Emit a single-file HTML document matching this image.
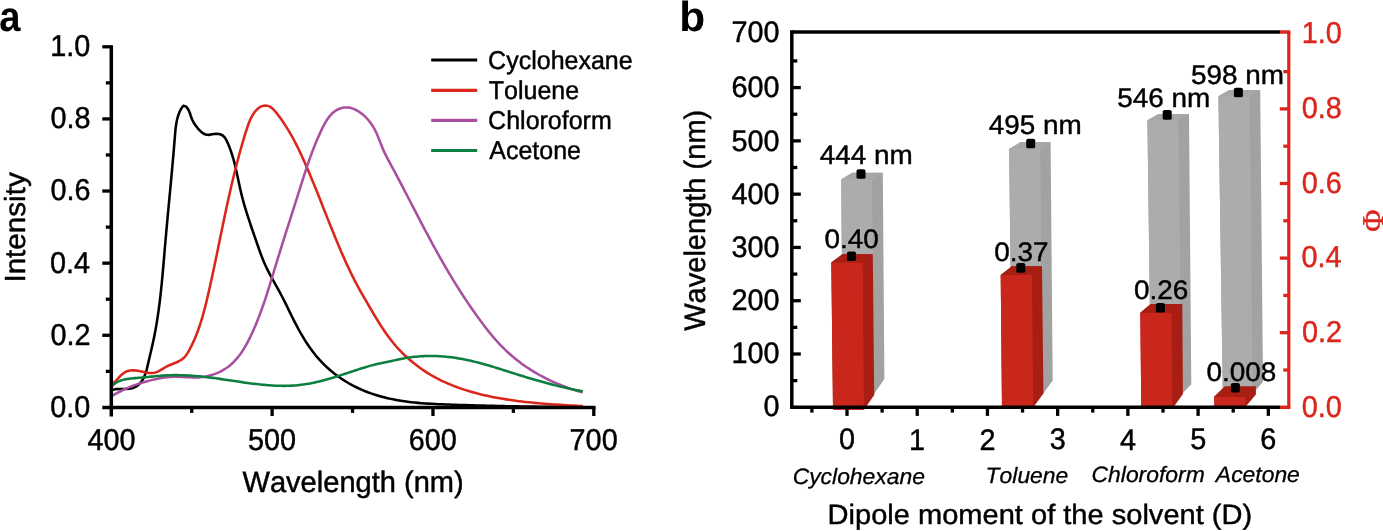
<!DOCTYPE html>
<html lang="en">
<head>
<meta charset="utf-8">
<title>Solvatochromism: emission spectra and dipole moment</title>
<style>
html, body { margin: 0; padding: 0; background: #ffffff; }
body { width: 1383px; height: 531px; overflow: hidden; }
svg { display: block; font-family: "Liberation Sans", sans-serif; }
text { stroke-linejoin: round; font-kerning: none; }
</style>
</head>
<body>
<svg width="1383" height="531" viewBox="0 0 1383 531" text-rendering="geometricPrecision">
<rect width="1383" height="531" fill="#ffffff"/>
<path d="M112.5,389.8L115.7,389.14L119.12,388.94L122.66,388.96L126.24,388.96L129.75,388.7L133.1,387.94L136.2,386.48L138.94,384.43L141.22,381.95L143.06,379.16L144.53,376.12L145.71,372.88L146.69,369.52L147.52,366.09L148.31,362.65L149.1,359.25L149.89,355.88L150.68,352.54L151.46,349.22L152.23,345.91L152.97,342.59L153.68,339.27L154.36,335.94L155.01,332.59L155.63,329.24L156.22,325.88L156.79,322.51L157.33,319.13L157.84,315.74L158.33,312.35L158.8,308.95L159.25,305.54L159.67,302.13L160.09,298.72L160.48,295.29L160.86,291.87L161.22,288.44L161.57,285.01L161.91,281.58L162.24,278.14L162.56,274.71L162.87,271.27L163.17,267.83L163.47,264.4L163.76,260.96L164.06,257.53L164.35,254.1L164.64,250.67L164.93,247.24L165.22,243.82L165.52,240.4L165.82,236.99L166.12,233.58L166.42,230.17L166.73,226.76L167.04,223.36L167.36,219.96L167.67,216.56L167.99,213.16L168.31,209.76L168.63,206.36L168.95,202.96L169.27,199.56L169.59,196.16L169.91,192.76L170.23,189.35L170.55,185.95L170.87,182.53L171.18,179.12L171.5,175.7L171.81,172.28L172.13,168.85L172.43,165.42L172.74,161.98L173.05,158.53L173.35,155.08L173.64,151.62L173.94,148.15L174.23,144.68L174.51,141.2L174.79,137.7L175.07,134.21L175.39,130.72L175.77,127.26L176.26,123.85L176.88,120.51L177.68,117.26L178.69,114.1L179.94,111.08L181.47,108.19L183.35,105.73L185.91,106.41L188.24,109.36L189.75,112.76L190.88,116.26L192.08,119.54L193.6,122.5L195.44,125.3L197.57,128.08L199.97,130.77L202.64,133.02L205.59,134.5L208.8,134.88L212.25,134.29L215.83,133.75L219.34,134L222.42,135.21L224.76,137.46L226.5,140.42L227.97,143.61L229.32,146.84L230.54,150.08L231.66,153.35L232.69,156.64L233.64,159.95L234.52,163.27L235.34,166.61L236.12,169.95L236.86,173.3L237.58,176.65L238.29,180.01L239,183.36L239.72,186.71L240.47,190.06L241.25,193.39L242.08,196.71L242.95,200.03L243.86,203.33L244.81,206.62L245.79,209.9L246.81,213.18L247.85,216.45L248.91,219.71L249.99,222.97L251.09,226.23L252.2,229.49L253.33,232.74L254.45,235.99L255.58,239.24L256.71,242.5L257.83,245.75L258.97,249L260.12,252.24L261.31,255.46L262.55,258.66L263.85,261.83L265.23,264.97L266.68,268.07L268.2,271.14L269.78,274.18L271.39,277.21L273.04,280.22L274.71,283.22L276.38,286.21L278.06,289.21L279.72,292.22L281.36,295.24L282.96,298.27L284.51,301.33L286.04,304.41L287.54,307.5L289.04,310.59L290.54,313.68L292.05,316.77L293.59,319.85L295.15,322.92L296.75,325.96L298.37,328.99L300.04,332L301.75,334.97L303.5,337.92L305.3,340.83L307.16,343.7L309.07,346.54L311.05,349.32L313.09,352.06L315.2,354.74L317.38,357.37L319.64,359.94L321.97,362.45L324.39,364.88L326.89,367.26L329.46,369.56L332.1,371.78L334.81,373.94L337.58,376.01L340.41,378.01L343.29,379.93L346.22,381.77L349.2,383.52L352.21,385.19L355.27,386.77L358.36,388.26L361.48,389.66L364.64,390.99L367.82,392.23L371.03,393.4L374.27,394.49L377.54,395.5L380.82,396.45L384.13,397.33L387.45,398.14L390.79,398.88L394.15,399.57L397.52,400.2L400.9,400.76L404.29,401.28L407.69,401.74L411.1,402.16L414.51,402.53L417.93,402.86L421.36,403.15L424.79,403.41L428.22,403.64L431.66,403.84L435.1,404.02L438.54,404.17L441.99,404.32L445.43,404.44L448.87,404.56L452.31,404.68L455.75,404.79L459.18,404.9L462.62,405.01L466.05,405.11L469.48,405.22L472.91,405.32L476.34,405.42L479.76,405.51L483.19,405.61L486.61,405.7L490.03,405.79L493.45,405.88L496.88,405.96L500.3,406.04L503.72,406.12L507.14,406.19L510.56,406.26L513.98,406.32L517.4,406.39L520.82,406.44L524.25,406.5L527.67,406.54L531.1,406.59L534.52,406.63L537.95,406.66L541.38,406.69L544.81,406.72L548.24,406.73L551.68,406.75L555.11,406.76L558.55,406.76L561.99,406.75L565.44,406.74L568.88,406.73L572.33,406.7L575.79,406.68L579.24,406.64L582.7,406.6" fill="none" stroke="#000000" stroke-width="2.55" stroke-linejoin="round"/>
<path d="M112.51,384.01L114.73,382.05L116.97,379.66L119.27,377.11L121.67,374.68L124.23,372.63L126.98,371.22L129.91,370.47L132.98,370.28L136.14,370.51L139.34,371.05L142.54,371.75L145.72,372.44L148.86,372.94L151.94,373.07L154.92,372.65L157.8,371.58L160.63,370.06L163.48,368.34L166.4,366.67L169.44,365.24L172.53,363.99L175.58,362.78L178.51,361.47L181.22,359.94L183.64,358.06L185.72,355.75L187.52,353.13L189.14,350.33L190.65,347.46L192.09,344.57L193.46,341.65L194.76,338.71L195.99,335.75L197.16,332.76L198.27,329.76L199.34,326.74L200.35,323.7L201.31,320.65L202.23,317.59L203.11,314.51L203.96,311.42L204.78,308.32L205.57,305.21L206.34,302.1L207.08,298.98L207.82,295.86L208.54,292.73L209.25,289.61L209.95,286.48L210.65,283.35L211.33,280.22L212.02,277.09L212.69,273.96L213.36,270.83L214.03,267.7L214.69,264.56L215.34,261.43L216,258.3L216.65,255.16L217.29,252.03L217.94,248.89L218.58,245.76L219.23,242.62L219.87,239.49L220.51,236.35L221.16,233.22L221.8,230.09L222.45,226.96L223.1,223.82L223.75,220.69L224.41,217.56L225.07,214.43L225.73,211.3L226.4,208.17L227.08,205.05L227.76,201.92L228.45,198.8L229.14,195.68L229.84,192.55L230.55,189.44L231.27,186.32L232,183.2L232.73,180.09L233.48,176.97L234.24,173.86L235.01,170.76L235.79,167.65L236.58,164.55L237.39,161.45L238.21,158.35L239.04,155.25L239.89,152.16L240.75,149.07L241.63,145.98L242.53,142.89L243.44,139.81L244.36,136.73L245.31,133.66L246.27,130.59L247.26,127.52L248.3,124.48L249.44,121.48L250.72,118.57L252.2,115.76L253.92,113.08L255.92,110.56L258.25,108.26L260.95,106.49L263.97,105.61L267.07,105.66L269.96,106.62L272.48,108.42L274.71,110.76L276.78,113.33L278.78,115.94L280.72,118.58L282.59,121.24L284.4,123.93L286.15,126.64L287.85,129.38L289.5,132.13L291.1,134.91L292.65,137.7L294.17,140.52L295.64,143.35L297.08,146.19L298.49,149.05L299.87,151.92L301.23,154.81L302.56,157.71L303.87,160.61L305.16,163.53L306.44,166.45L307.71,169.38L308.97,172.32L310.21,175.26L311.45,178.21L312.67,181.17L313.89,184.13L315.1,187.1L316.3,190.07L317.5,193.04L318.69,196.01L319.87,198.99L321.06,201.97L322.24,204.95L323.42,207.93L324.6,210.92L325.78,213.9L326.96,216.88L328.15,219.86L329.33,222.84L330.52,225.82L331.72,228.8L332.92,231.77L334.12,234.74L335.34,237.7L336.56,240.66L337.79,243.62L339.03,246.57L340.28,249.51L341.54,252.45L342.82,255.38L344.11,258.31L345.42,261.22L346.75,264.13L348.09,267.02L349.46,269.91L350.85,272.79L352.25,275.66L353.69,278.51L355.14,281.36L356.63,284.19L358.14,287.01L359.68,289.82L361.25,292.61L362.83,295.4L364.43,298.18L366.05,300.95L367.67,303.72L369.3,306.49L370.93,309.25L372.56,312.02L374.2,314.78L375.85,317.53L377.51,320.27L379.2,323L380.91,325.7L382.65,328.38L384.42,331.04L386.24,333.67L388.09,336.26L389.99,338.82L391.95,341.34L393.96,343.82L396.03,346.25L398.16,348.63L400.35,350.96L402.6,353.24L404.91,355.47L407.26,357.65L409.67,359.77L412.13,361.84L414.64,363.86L417.19,365.82L419.78,367.72L422.42,369.57L425.09,371.35L427.8,373.08L430.55,374.75L433.33,376.35L436.14,377.9L438.98,379.38L441.85,380.8L444.74,382.15L447.66,383.46L450.6,384.7L453.57,385.89L456.55,387.03L459.56,388.11L462.58,389.15L465.62,390.13L468.68,391.07L471.75,391.97L474.83,392.83L477.93,393.64L481.04,394.41L484.15,395.15L487.28,395.85L490.41,396.52L493.54,397.15L496.69,397.75L499.84,398.32L502.99,398.86L506.15,399.37L509.32,399.86L512.49,400.32L515.66,400.75L518.84,401.16L522.02,401.54L525.21,401.91L528.39,402.25L531.58,402.58L534.78,402.89L537.97,403.18L541.17,403.45L544.36,403.71L547.56,403.96L550.76,404.19L553.95,404.41L557.15,404.62L560.35,404.83L563.54,405.02L566.74,405.21L569.93,405.4L573.12,405.58L576.31,405.75L579.49,405.93L582.68,406.1" fill="none" stroke="#DB261C" stroke-width="2.55" stroke-linejoin="round"/>
<path d="M112.49,395.67L115.14,394.13L117.84,392.66L120.57,391.25L123.33,389.91L126.13,388.63L128.96,387.41L131.82,386.26L134.71,385.17L137.62,384.14L140.55,383.16L143.5,382.25L146.47,381.4L149.46,380.61L152.46,379.88L155.47,379.2L158.49,378.59L161.52,378.05L164.55,377.58L167.59,377.21L170.64,376.93L173.69,376.75L176.75,376.68L179.8,376.74L182.86,376.9L185.92,377.13L189,377.35L192.08,377.5L195.18,377.52L198.29,377.38L201.4,377.1L204.49,376.65L207.55,376.05L210.58,375.3L213.55,374.39L216.45,373.33L219.28,372.11L222.01,370.74L224.64,369.21L227.16,367.53L229.55,365.7L231.83,363.73L233.99,361.63L236.05,359.41L238.01,357.08L239.88,354.66L241.66,352.14L243.36,349.55L244.98,346.89L246.53,344.17L248.02,341.41L249.44,338.61L250.82,335.78L252.15,332.94L253.44,330.09L254.69,327.24L255.9,324.38L257.08,321.51L258.22,318.65L259.33,315.77L260.42,312.89L261.47,310.01L262.5,307.12L263.51,304.23L264.5,301.33L265.47,298.43L266.42,295.53L267.35,292.62L268.27,289.71L269.19,286.79L270.09,283.87L270.98,280.95L271.87,278.02L272.76,275.09L273.65,272.16L274.53,269.23L275.42,266.29L276.32,263.35L277.22,260.41L278.12,257.46L279.03,254.52L279.95,251.57L280.87,248.62L281.79,245.67L282.72,242.72L283.65,239.77L284.58,236.82L285.51,233.87L286.45,230.92L287.39,227.97L288.33,225.02L289.27,222.07L290.21,219.12L291.15,216.17L292.09,213.23L293.03,210.29L293.97,207.35L294.9,204.41L295.84,201.47L296.77,198.54L297.7,195.61L298.63,192.69L299.55,189.76L300.47,186.85L301.39,183.93L302.31,181.02L303.24,178.11L304.17,175.21L305.11,172.31L306.06,169.41L307.02,166.52L308,163.63L309,160.74L310.02,157.86L311.06,154.98L312.13,152.1L313.22,149.22L314.35,146.35L315.51,143.47L316.7,140.6L317.93,137.74L319.21,134.87L320.52,132.01L321.88,129.15L323.29,126.29L324.78,123.49L326.37,120.77L328.08,118.19L329.95,115.77L332,113.58L334.26,111.65L336.75,110.01L339.47,108.73L342.38,107.85L345.36,107.43L348.36,107.52L351.31,108.1L354.19,109.11L356.99,110.48L359.68,112.16L362.23,114.07L364.62,116.16L366.85,118.38L368.91,120.72L370.8,123.17L372.53,125.72L374.09,128.35L375.5,131.06L376.8,133.83L378.01,136.64L379.16,139.49L380.28,142.35L381.4,145.21L382.55,148.07L383.76,150.9L385.05,153.69L386.42,156.44L387.84,159.16L389.31,161.87L390.78,164.57L392.24,167.28L393.7,169.99L395.15,172.71L396.59,175.43L398.03,178.15L399.47,180.87L400.9,183.6L402.32,186.33L403.75,189.06L405.17,191.79L406.59,194.52L408.01,197.26L409.43,199.99L410.84,202.73L412.26,205.46L413.67,208.2L415.09,210.93L416.51,213.67L417.93,216.4L419.35,219.13L420.77,221.86L422.2,224.59L423.63,227.31L425.07,230.04L426.51,232.76L427.96,235.47L429.41,238.19L430.86,240.9L432.33,243.6L433.8,246.31L435.28,249L436.76,251.7L438.26,254.38L439.76,257.07L441.28,259.74L442.8,262.42L444.33,265.08L445.88,267.74L447.43,270.39L449,273.04L450.58,275.68L452.17,278.31L453.77,280.93L455.38,283.55L457.01,286.16L458.65,288.77L460.3,291.36L461.97,293.95L463.64,296.53L465.34,299.1L467.04,301.67L468.76,304.22L470.5,306.77L472.25,309.31L474.01,311.84L475.79,314.36L477.59,316.87L479.4,319.37L481.23,321.86L483.08,324.33L484.96,326.79L486.85,329.22L488.78,331.63L490.73,334.02L492.71,336.38L494.71,338.72L496.75,341.02L498.83,343.28L500.94,345.52L503.08,347.71L505.27,349.86L507.5,351.98L509.76,354.04L512.07,356.06L514.43,358.04L516.82,359.97L519.25,361.85L521.71,363.69L524.22,365.48L526.75,367.22L529.32,368.92L531.93,370.57L534.56,372.18L537.22,373.74L539.91,375.25L542.63,376.72L545.37,378.14L548.13,379.51L550.92,380.84L553.73,382.13L556.56,383.36L559.4,384.55L562.27,385.7L565.14,386.8L568.04,387.85L570.94,388.86L573.86,389.81L576.79,390.73L579.72,391.6L582.67,392.42" fill="none" stroke="#A94F9F" stroke-width="2.55" stroke-linejoin="round"/>
<path d="M112.45,385.61L113.93,384.32L115.46,383.19L117.05,382.22L118.68,381.39L120.36,380.69L122.07,380.11L123.82,379.62L125.6,379.23L127.4,378.9L129.23,378.65L131.07,378.44L132.93,378.27L134.79,378.12L136.65,377.98L138.52,377.84L140.38,377.68L142.23,377.52L144.09,377.35L145.94,377.17L147.78,376.98L149.63,376.79L151.47,376.61L153.31,376.42L155.15,376.24L157,376.07L158.84,375.9L160.68,375.75L162.53,375.61L164.37,375.48L166.22,375.38L168.08,375.29L169.93,375.22L171.79,375.17L173.65,375.14L175.51,375.13L177.37,375.14L179.24,375.16L181.1,375.2L182.97,375.26L184.83,375.33L186.69,375.42L188.56,375.52L190.42,375.63L192.28,375.76L194.13,375.9L195.99,376.05L197.84,376.21L199.69,376.39L201.53,376.57L203.37,376.77L205.21,376.97L207.04,377.18L208.87,377.4L210.7,377.63L212.53,377.87L214.36,378.11L216.18,378.36L218.01,378.61L219.83,378.87L221.66,379.13L223.48,379.39L225.31,379.66L227.14,379.93L228.97,380.2L230.8,380.48L232.63,380.75L234.47,381.03L236.31,381.3L238.15,381.58L240,381.85L241.84,382.12L243.69,382.39L245.54,382.65L247.4,382.91L249.25,383.16L251.11,383.4L252.96,383.64L254.82,383.87L256.68,384.09L258.54,384.3L260.4,384.51L262.27,384.7L264.13,384.88L265.99,385.04L267.85,385.2L269.71,385.33L271.57,385.46L273.43,385.57L275.29,385.66L277.15,385.74L279.01,385.8L280.87,385.84L282.72,385.86L284.58,385.86L286.43,385.84L288.28,385.79L290.13,385.73L291.98,385.64L293.82,385.53L295.66,385.4L297.5,385.24L299.34,385.05L301.17,384.83L303,384.59L304.83,384.33L306.65,384.04L308.47,383.73L310.29,383.39L312.11,383.04L313.92,382.66L315.73,382.26L317.54,381.85L319.34,381.42L321.15,380.97L322.95,380.51L324.74,380.03L326.54,379.53L328.33,379.03L330.12,378.51L331.91,377.98L333.7,377.44L335.48,376.9L337.26,376.34L339.04,375.78L340.82,375.21L342.59,374.64L344.36,374.06L346.13,373.48L347.9,372.89L349.67,372.31L351.43,371.72L353.2,371.14L354.96,370.55L356.72,369.97L358.48,369.4L360.24,368.83L362,368.27L363.76,367.71L365.53,367.17L367.29,366.64L369.06,366.12L370.84,365.62L372.62,365.14L374.41,364.68L376.2,364.23L378,363.81L379.81,363.41L381.62,363.03L383.44,362.66L385.27,362.29L387.09,361.93L388.92,361.56L390.74,361.17L392.57,360.78L394.39,360.37L396.21,359.97L398.03,359.57L399.85,359.18L401.68,358.81L403.51,358.45L405.34,358.12L407.17,357.81L409.01,357.53L410.85,357.27L412.69,357.04L414.54,356.83L416.39,356.65L418.23,356.48L420.08,356.34L421.94,356.23L423.79,356.13L425.64,356.06L427.49,356.01L429.35,355.99L431.2,355.98L433.06,356L434.91,356.04L436.76,356.1L438.62,356.18L440.47,356.28L442.32,356.41L444.16,356.55L446.01,356.72L447.86,356.9L449.7,357.11L451.54,357.33L453.37,357.57L455.21,357.84L457.04,358.12L458.87,358.42L460.69,358.74L462.51,359.08L464.33,359.43L466.15,359.8L467.96,360.19L469.77,360.59L471.58,361L473.39,361.43L475.19,361.87L476.99,362.32L478.79,362.79L480.59,363.27L482.38,363.75L484.17,364.25L485.96,364.76L487.75,365.27L489.54,365.79L491.33,366.32L493.11,366.86L494.89,367.4L496.68,367.95L498.46,368.5L500.24,369.05L502.02,369.61L503.8,370.17L505.57,370.74L507.35,371.3L509.13,371.87L510.9,372.43L512.68,373L514.45,373.56L516.23,374.12L518,374.68L519.78,375.24L521.56,375.79L523.33,376.34L525.11,376.88L526.88,377.42L528.66,377.96L530.44,378.49L532.22,379.01L534,379.54L535.78,380.05L537.56,380.57L539.34,381.07L541.13,381.57L542.91,382.07L544.7,382.56L546.48,383.04L548.27,383.52L550.06,383.99L551.86,384.46L553.65,384.92L555.45,385.37L557.25,385.82L559.05,386.26L560.85,386.69L562.66,387.12L564.46,387.53L566.27,387.94L568.09,388.35L569.9,388.74L571.72,389.13L573.54,389.51L575.37,389.88L577.19,390.25L579.02,390.6L580.86,390.95L582.7,391.28" fill="none" stroke="#0B7F3F" stroke-width="2.55" stroke-linejoin="round"/>
<line x1="111.3" y1="45.15" x2="111.3" y2="416.4" stroke="#000" stroke-width="3.5"/>
<line x1="102.3" y1="407.4" x2="595.55" y2="407.4" stroke="#000" stroke-width="3.5"/>
<text font-size="28.8" transform="translate(50.27 416.8) scale(1 1.05)" stroke="#000" stroke-width="0.45">0.0</text>
<line x1="105.8" y1="371.34" x2="111.3" y2="371.34" stroke="#000" stroke-width="3.3"/>
<line x1="102.3" y1="335.28" x2="111.3" y2="335.28" stroke="#000" stroke-width="3.3"/>
<text font-size="28.8" transform="translate(50.58 344.68) scale(1 1.05)" stroke="#000" stroke-width="0.45">0.2</text>
<line x1="105.8" y1="299.22" x2="111.3" y2="299.22" stroke="#000" stroke-width="3.3"/>
<line x1="102.3" y1="263.16" x2="111.3" y2="263.16" stroke="#000" stroke-width="3.3"/>
<text font-size="28.8" transform="translate(49.98 272.56) scale(1 1.05)" stroke="#000" stroke-width="0.45">0.4</text>
<line x1="105.8" y1="227.1" x2="111.3" y2="227.1" stroke="#000" stroke-width="3.3"/>
<line x1="102.3" y1="191.04" x2="111.3" y2="191.04" stroke="#000" stroke-width="3.3"/>
<text font-size="28.8" transform="translate(50.41 200.44) scale(1 1.05)" stroke="#000" stroke-width="0.45">0.6</text>
<line x1="105.8" y1="154.98" x2="111.3" y2="154.98" stroke="#000" stroke-width="3.3"/>
<line x1="102.3" y1="118.92" x2="111.3" y2="118.92" stroke="#000" stroke-width="3.3"/>
<text font-size="28.8" transform="translate(50.4 128.32) scale(1 1.05)" stroke="#000" stroke-width="0.45">0.8</text>
<line x1="105.8" y1="82.86" x2="111.3" y2="82.86" stroke="#000" stroke-width="3.3"/>
<line x1="102.3" y1="46.8" x2="111.3" y2="46.8" stroke="#000" stroke-width="3.3"/>
<text font-size="28.8" transform="translate(50.27 56.2) scale(1 1.05)" stroke="#000" stroke-width="0.45">1.0</text>
<text font-size="28.8" transform="translate(87.51 449.5) scale(1 1.05)" stroke="#000" stroke-width="0.45">400</text>
<line x1="191.72" y1="407.4" x2="191.72" y2="412.9" stroke="#000" stroke-width="3.3"/>
<line x1="272.13" y1="407.4" x2="272.13" y2="416" stroke="#000" stroke-width="3.3"/>
<text font-size="28.8" transform="translate(248.06 449.5) scale(1 1.05)" stroke="#000" stroke-width="0.45">500</text>
<line x1="352.55" y1="407.4" x2="352.55" y2="412.9" stroke="#000" stroke-width="3.3"/>
<line x1="432.97" y1="407.4" x2="432.97" y2="416" stroke="#000" stroke-width="3.3"/>
<text font-size="28.8" transform="translate(408.77 449.5) scale(1 1.05)" stroke="#000" stroke-width="0.45">600</text>
<line x1="513.38" y1="407.4" x2="513.38" y2="412.9" stroke="#000" stroke-width="3.3"/>
<line x1="593.8" y1="407.4" x2="593.8" y2="416" stroke="#000" stroke-width="3.3"/>
<text font-size="28.8" transform="translate(569.6 449.5) scale(1 1.05)" stroke="#000" stroke-width="0.45">700</text>
<text font-size="29.05" transform="translate(24.5 282.6) rotate(-90) scale(1.02 1)" stroke="#000" stroke-width="0.45">Intensity</text>
<text font-size="29.05" transform="translate(242.53 492.2) scale(1 1.02)" stroke="#000" stroke-width="0.45">Wavelength (nm)</text>
<text font-size="42.4" transform="translate(-0.73 31.2) scale(0.9 1)" font-weight="bold">a</text>
<line x1="431.2" y1="60" x2="477.2" y2="60" stroke="#000000" stroke-width="3.2"/>
<text font-size="25" transform="translate(488.12 68.6) scale(1 1.03)" stroke="#000" stroke-width="0.45">Cyclohexane</text>
<line x1="431.2" y1="90.3" x2="477.2" y2="90.3" stroke="#DB261C" stroke-width="3.2"/>
<text font-size="25" transform="translate(488.83 98.9) scale(1 1.03)" stroke="#000" stroke-width="0.45">Toluene</text>
<line x1="431.2" y1="120.4" x2="477.2" y2="120.4" stroke="#A94F9F" stroke-width="3.2"/>
<text font-size="25" transform="translate(488.12 129) scale(1 1.03)" stroke="#000" stroke-width="0.45">Chloroform</text>
<line x1="431.2" y1="150.5" x2="477.2" y2="150.5" stroke="#0B7F3F" stroke-width="3.2"/>
<text font-size="25" transform="translate(489.29 159.1) scale(1 1.03)" stroke="#000" stroke-width="0.45">Acetone</text>
<polygon points="841.2,179.6 852.3,172.7 882.8,172.7 884.4,379 874,394 843,394" fill="#A2A2A2"/>
<polygon points="841.2,179.6 872,179.6 874,394 843,394" fill="#ACACAC"/>
<polygon points="841.2,179.6 852.3,172.7 882.8,172.7 872,179.6" fill="#A7A7A7"/>
<polygon points="831.3,262.6 842.4,254.3 872.8,254.3 874.2,395 864,409.8 833,409.8" fill="#A81E13"/>
<polygon points="831.3,262.6 862.7,262.6 864,409.8 833,409.8" fill="#C9261C"/>
<polygon points="831.3,262.6 842.4,254.3 872.8,254.3 862.7,262.6" fill="#A81E13"/>
<polygon points="1009.1,149.1 1020.7,142.1 1050.6,142.1 1052.7,380.5 1043,394 1012,394" fill="#A2A2A2"/>
<polygon points="1009.1,149.1 1040.2,149.1 1043,394 1012,394" fill="#ACACAC"/>
<polygon points="1009.1,149.1 1020.7,142.1 1050.6,142.1 1040.2,149.1" fill="#A7A7A7"/>
<polygon points="1000.7,274.9 1011.9,266.2 1042,266.2 1043.4,393.4 1033.2,407.6 1002,409" fill="#A81E13"/>
<polygon points="1000.7,274.9 1032,274.9 1033.2,407.6 1002,409" fill="#C9261C"/>
<polygon points="1000.7,274.9 1011.9,266.2 1042,266.2 1032,274.9" fill="#A81E13"/>
<polygon points="1147.4,120.2 1158.5,114 1189,114 1191.3,384.2 1182,394 1151,394" fill="#A2A2A2"/>
<polygon points="1147.4,120.2 1178.2,120.2 1182,394 1151,394" fill="#ACACAC"/>
<polygon points="1147.4,120.2 1158.5,114 1189,114 1178.2,120.2" fill="#A7A7A7"/>
<polygon points="1140.3,312.7 1150.7,304.1 1182.3,304.1 1182.9,394 1172.2,409 1141.3,409" fill="#A81E13"/>
<polygon points="1140.3,312.7 1171.6,312.7 1172.2,409 1141.3,409" fill="#C9261C"/>
<polygon points="1140.3,312.7 1150.7,304.1 1182.3,304.1 1171.6,312.7" fill="#A81E13"/>
<polygon points="1218.4,96.2 1229.4,89.9 1260.2,89.9 1263,381.7 1252.6,394 1222.8,394" fill="#A2A2A2"/>
<polygon points="1218.4,96.2 1249.7,96.2 1252.6,394 1222.8,394" fill="#ACACAC"/>
<polygon points="1218.4,96.2 1229.4,89.9 1260.2,89.9 1249.7,96.2" fill="#A7A7A7"/>
<polygon points="1214.2,396.7 1224.8,386.4 1255.9,386.4 1255.9,394.5 1245.7,406.4 1214.5,409" fill="#A81E13"/>
<polygon points="1214.2,396.7 1245.7,396.7 1245.7,406.4 1214.5,409" fill="#C9261C"/>
<polygon points="1214.2,396.7 1224.8,386.4 1255.9,386.4 1245.7,396.7" fill="#A81E13"/>
<line x1="791.8" y1="30.25" x2="791.8" y2="409.05" stroke="#000" stroke-width="3.5"/>
<line x1="790.05" y1="407.3" x2="1280" y2="407.3" stroke="#000" stroke-width="3.5"/>
<line x1="791.8" y1="32" x2="1280" y2="32" stroke="#000" stroke-width="3.5"/>
<line x1="1280" y1="32" x2="1290.4" y2="32" stroke="#DB261C" stroke-width="3.5"/>
<line x1="1280" y1="407.3" x2="1290.4" y2="407.3" stroke="#DB261C" stroke-width="3.5"/>
<line x1="1288.8" y1="32" x2="1288.8" y2="407.3" stroke="#DB261C" stroke-width="3.2"/>
<text font-size="28.8" transform="translate(763.52 416.3) scale(1 1.03)" stroke="#000" stroke-width="0.45">0</text>
<line x1="791.8" y1="380.66" x2="797.3" y2="380.66" stroke="#000" stroke-width="3.3"/>
<line x1="791.8" y1="354.01" x2="800.8" y2="354.01" stroke="#000" stroke-width="3.3"/>
<text font-size="28.8" transform="translate(731.48 363.3) scale(1 1.03)" stroke="#000" stroke-width="0.45">100</text>
<line x1="791.8" y1="327.37" x2="797.3" y2="327.37" stroke="#000" stroke-width="3.3"/>
<line x1="791.8" y1="300.73" x2="800.8" y2="300.73" stroke="#000" stroke-width="3.3"/>
<text font-size="28.8" transform="translate(731.48 310.2) scale(1 1.03)" stroke="#000" stroke-width="0.45">200</text>
<line x1="791.8" y1="274.09" x2="797.3" y2="274.09" stroke="#000" stroke-width="3.3"/>
<line x1="791.8" y1="247.44" x2="800.8" y2="247.44" stroke="#000" stroke-width="3.3"/>
<text font-size="28.8" transform="translate(731.48 257.1) scale(1 1.03)" stroke="#000" stroke-width="0.45">300</text>
<line x1="791.8" y1="220.8" x2="797.3" y2="220.8" stroke="#000" stroke-width="3.3"/>
<line x1="791.8" y1="194.16" x2="800.8" y2="194.16" stroke="#000" stroke-width="3.3"/>
<text font-size="28.8" transform="translate(731.48 204) scale(1 1.03)" stroke="#000" stroke-width="0.45">400</text>
<line x1="791.8" y1="167.51" x2="797.3" y2="167.51" stroke="#000" stroke-width="3.3"/>
<line x1="791.8" y1="140.87" x2="800.8" y2="140.87" stroke="#000" stroke-width="3.3"/>
<text font-size="28.8" transform="translate(731.48 150.9) scale(1 1.03)" stroke="#000" stroke-width="0.45">500</text>
<line x1="791.8" y1="114.23" x2="797.3" y2="114.23" stroke="#000" stroke-width="3.3"/>
<line x1="791.8" y1="87.59" x2="800.8" y2="87.59" stroke="#000" stroke-width="3.3"/>
<text font-size="28.8" transform="translate(731.48 97.1) scale(1 1.03)" stroke="#000" stroke-width="0.45">600</text>
<line x1="791.8" y1="60.94" x2="797.3" y2="60.94" stroke="#000" stroke-width="3.3"/>
<text font-size="28.8" transform="translate(731.48 41.9) scale(1 1.03)" stroke="#000" stroke-width="0.45">700</text>
<text font-size="28.8" transform="translate(1301.67 416.6) scale(1 1.05)" fill="#DB261C" stroke="#DB261C" stroke-width="0.45">0.0</text>
<line x1="1283.3" y1="370" x2="1288.8" y2="370" stroke="#DB261C" stroke-width="3.3"/>
<line x1="1279.8" y1="332.7" x2="1288.8" y2="332.7" stroke="#DB261C" stroke-width="3.3"/>
<text font-size="28.8" transform="translate(1301.98 342) scale(1 1.05)" fill="#DB261C" stroke="#DB261C" stroke-width="0.45">0.2</text>
<line x1="1283.3" y1="295.4" x2="1288.8" y2="295.4" stroke="#DB261C" stroke-width="3.3"/>
<line x1="1279.8" y1="258.1" x2="1288.8" y2="258.1" stroke="#DB261C" stroke-width="3.3"/>
<text font-size="28.8" transform="translate(1301.38 267.4) scale(1 1.05)" fill="#DB261C" stroke="#DB261C" stroke-width="0.45">0.4</text>
<line x1="1283.3" y1="220.8" x2="1288.8" y2="220.8" stroke="#DB261C" stroke-width="3.3"/>
<line x1="1279.8" y1="183.5" x2="1288.8" y2="183.5" stroke="#DB261C" stroke-width="3.3"/>
<text font-size="28.8" transform="translate(1301.81 192.8) scale(1 1.05)" fill="#DB261C" stroke="#DB261C" stroke-width="0.45">0.6</text>
<line x1="1283.3" y1="146.2" x2="1288.8" y2="146.2" stroke="#DB261C" stroke-width="3.3"/>
<line x1="1279.8" y1="108.9" x2="1288.8" y2="108.9" stroke="#DB261C" stroke-width="3.3"/>
<text font-size="28.8" transform="translate(1301.8 118.2) scale(1 1.05)" fill="#DB261C" stroke="#DB261C" stroke-width="0.45">0.8</text>
<line x1="1283.3" y1="71.6" x2="1288.8" y2="71.6" stroke="#DB261C" stroke-width="3.3"/>
<text font-size="28.8" transform="translate(1301.67 42.7) scale(1 1.05)" fill="#DB261C" stroke="#DB261C" stroke-width="0.45">1.0</text>
<line x1="811.89" y1="407.3" x2="811.89" y2="412.6" stroke="#000" stroke-width="3.3"/>
<line x1="847" y1="407.3" x2="847" y2="415.9" stroke="#000" stroke-width="3.3"/>
<text font-size="28.8" transform="translate(839.1 449.2) scale(1 1.03)" stroke="#000" stroke-width="0.45">0</text>
<line x1="882.11" y1="407.3" x2="882.11" y2="412.6" stroke="#000" stroke-width="3.3"/>
<line x1="917.22" y1="407.3" x2="917.22" y2="415.9" stroke="#000" stroke-width="3.3"/>
<text font-size="28.8" transform="translate(908.92 449.5) scale(1 1.03)" stroke="#000" stroke-width="0.45">1</text>
<line x1="952.33" y1="407.3" x2="952.33" y2="412.6" stroke="#000" stroke-width="3.3"/>
<line x1="987.44" y1="407.3" x2="987.44" y2="415.9" stroke="#000" stroke-width="3.3"/>
<text font-size="28.8" transform="translate(979.53 449.5) scale(1 1.03)" stroke="#000" stroke-width="0.45">2</text>
<line x1="1022.55" y1="407.3" x2="1022.55" y2="412.6" stroke="#000" stroke-width="3.3"/>
<line x1="1057.66" y1="407.3" x2="1057.66" y2="415.9" stroke="#000" stroke-width="3.3"/>
<text font-size="28.8" transform="translate(1049.83 449.2) scale(1 1.03)" stroke="#000" stroke-width="0.45">3</text>
<line x1="1092.77" y1="407.3" x2="1092.77" y2="412.6" stroke="#000" stroke-width="3.3"/>
<line x1="1127.88" y1="407.3" x2="1127.88" y2="415.9" stroke="#000" stroke-width="3.3"/>
<text font-size="28.8" transform="translate(1120.06 449.5) scale(1 1.03)" stroke="#000" stroke-width="0.45">4</text>
<line x1="1162.99" y1="407.3" x2="1162.99" y2="412.6" stroke="#000" stroke-width="3.3"/>
<line x1="1198.1" y1="407.3" x2="1198.1" y2="415.9" stroke="#000" stroke-width="3.3"/>
<text font-size="28.8" transform="translate(1190.19 449.2) scale(1 1.03)" stroke="#000" stroke-width="0.45">5</text>
<line x1="1233.21" y1="407.3" x2="1233.21" y2="412.6" stroke="#000" stroke-width="3.3"/>
<line x1="1268.32" y1="407.3" x2="1268.32" y2="415.9" stroke="#000" stroke-width="3.3"/>
<text font-size="28.8" transform="translate(1260.31 449.2) scale(1 1.03)" stroke="#000" stroke-width="0.45">6</text>
<rect x="856.5" y="169.2" width="9" height="9.6" rx="2.2" ry="1.5" fill="#000"/>
<rect x="847" y="251.4" width="9" height="9.6" rx="2.2" ry="1.5" fill="#000"/>
<text font-size="27.9" transform="translate(819.72 164.3) scale(1 0.96)" stroke="#000" stroke-width="0.45">444 nm</text>
<text font-size="27.9" transform="translate(824.51 247.93) scale(1 0.96)" stroke="#000" stroke-width="0.45">0.40</text>
<rect x="1026.2" y="138.7" width="9" height="9.6" rx="2.2" ry="1.5" fill="#000"/>
<rect x="1016.3" y="263.1" width="9" height="9.6" rx="2.2" ry="1.5" fill="#000"/>
<text font-size="27.9" transform="translate(988.72 134.03) scale(1 0.96)" stroke="#000" stroke-width="0.45">495 nm</text>
<text font-size="27.9" transform="translate(994.31 260.83) scale(1 0.96)" stroke="#000" stroke-width="0.45">0.37</text>
<rect x="1162.7" y="110.1" width="9" height="9.6" rx="2.2" ry="1.5" fill="#000"/>
<rect x="1155.9" y="302.9" width="9" height="9.6" rx="2.2" ry="1.5" fill="#000"/>
<text font-size="27.9" transform="translate(1117.25 107.33) scale(1 0.96)" stroke="#000" stroke-width="0.45">546 nm</text>
<text font-size="27.9" transform="translate(1133.92 299.43) scale(1 0.96)" stroke="#000" stroke-width="0.45">0.26</text>
<rect x="1233.9" y="87.7" width="9" height="9.6" rx="2.2" ry="1.5" fill="#000"/>
<rect x="1230.9" y="383" width="9" height="9.6" rx="2.2" ry="1.5" fill="#000"/>
<text font-size="27.9" transform="translate(1190.9 84.03) scale(1 0.96)" stroke="#000" stroke-width="0.45">598 nm</text>
<text font-size="27.9" transform="translate(1206.54 380.63) scale(1 0.96)" stroke="#000" stroke-width="0.45">0.008</text>
<text font-size="22.9" transform="translate(792.63 483.8) scale(1 0.97)" stroke="#000" stroke-width="0.3" font-style="italic">Cyclohexane</text>
<text font-size="22.9" transform="translate(985.58 482.5) scale(1 0.97)" stroke="#000" stroke-width="0.3" font-style="italic">Toluene</text>
<text font-size="22.9" transform="translate(1091.53 482.3) scale(1 0.97)" stroke="#000" stroke-width="0.3" font-style="italic">Chloroform</text>
<text font-size="22.9" transform="translate(1215.86 482) scale(1 0.97)" stroke="#000" stroke-width="0.3" font-style="italic">Acetone</text>
<text font-size="29.05" transform="translate(827.58 524.4) scale(1 0.96)" stroke="#000" stroke-width="0.45">Dipole moment of the solvent (D)</text>
<text font-size="29.05" transform="translate(704.7 330.87) rotate(-90) scale(1 1.02)" stroke="#000" stroke-width="0.45">Wavelength (nm)</text>
<text font-size="30.2" transform="translate(1382.68 231.74) rotate(-90) scale(1 1)" fill="#DB261C" stroke="#DB261C" stroke-width="0.5" font-family='"Liberation Serif", "DejaVu Serif", serif'>Φ</text>
<text font-size="42" transform="translate(679.19 31.4) scale(1.01 1)" font-weight="bold">b</text>
</svg>
</body>
</html>
